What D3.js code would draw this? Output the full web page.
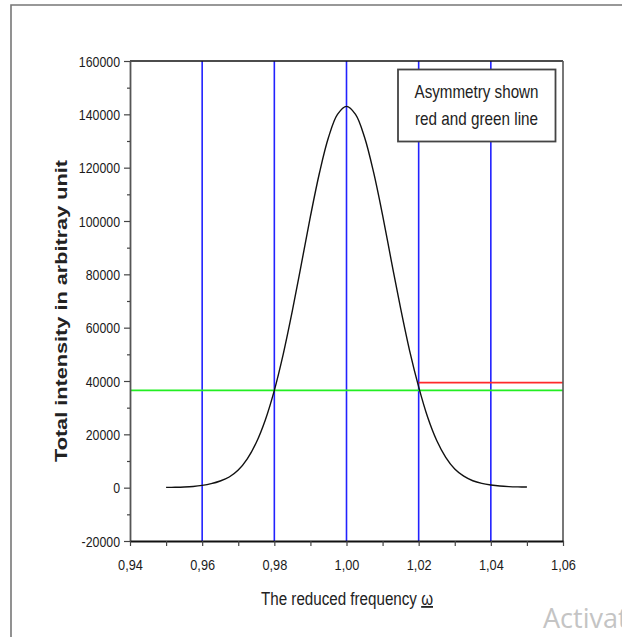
<!DOCTYPE html>
<html><head><meta charset="utf-8">
<script src="https://cdn.jsdelivr.net/npm/d3@7"></script>
<style>body{margin:0;background:#fff}svg{display:block}</style>
</head><body>
<svg id="chart" width="622" height="637"></svg>
<script>
// ---- data ----
const frequency = [0.9500,0.9525,0.9550,0.9575,0.9600,0.9625,0.9650,0.9675,0.9700,0.9725,0.9750,0.9775,0.9800,0.9825,0.9850,0.9875,0.9900,0.9925,0.9950,0.9975,
  1.0000,1.0025,1.0050,1.0075,1.0100,1.0125,1.0150,1.0175,1.0200,1.0225,1.0250,1.0275,1.0300,1.0325,1.0350,1.0375,1.0400,1.0425,1.0450,1.0475,1.0500];
const intensity = [100,150,250,450,850,1500,2500,4000,6620,10830,16940,25400,36500,50280,66350,83900,101700,118000,131300,139980,
  143000,139980,131400,118300,102200,84500,67200,51300,37800,26400,17700,11400,7000,4300,2600,1600,1000,600,400,300,250];
const blueLines = [0.96, 0.98, 1.00, 1.02, 1.04];
const greenLevel = 36500;           // across the whole plot
const redLevel = 39400;             // from 1.02 to the right edge
const redStart = 1.02;
const xDomain = [0.94, 1.06];
const yDomain = [-20000, 160000];
const xTickValues = [0.94, 0.96, 0.98, 1.00, 1.02, 1.04, 1.06];
const xTickLabels = ["0,94", "0,96", "0,98", "1,00", "1,02", "1,04", "1,06"];
const xMinorTicks = [0.95, 0.97, 0.99, 1.01, 1.03, 1.05];
const yTickValues = [-20000, 0, 20000, 40000, 60000, 80000, 100000, 120000, 140000, 160000];
const yTickLabels = ["-20000", "0", "20000", "40000", "60000", "80000", "100000", "120000", "140000", "160000"];
const yMinorTicks = [-10000, 10000, 30000, 50000, 70000, 90000, 110000, 130000, 150000];
const legendLines = ["Asymmetry shown", "red and green line"];
const xTitle = "The reduced frequency ";
const xTitleSymbol = "ω";
const yTitle = "Total intensity in arbitray unit";
const watermark = "Activat";

// ---- layout ----
const L = 130, R = 563, T = 61, B = 541;
const svg = d3.select("#chart");
const x = d3.scaleLinear().domain(xDomain).range([L, R]);
const y = d3.scaleLinear().domain(yDomain).range([B, T]);
const FONT = "'Liberation Sans', Arial, sans-serif";

function condense(sel, f) {
  sel.each(function () {
    const w = this.getComputedTextLength();
    this.setAttribute("textLength", w * f);
    this.setAttribute("lengthAdjust", "spacingAndGlyphs");
  });
}

svg.append("rect").attr("width", 622).attr("height", 637).attr("fill", "#fff");

// outer frame (top and left only visible)
svg.append("path").attr("d", "M11,637 L11,5 L622,5")
  .attr("fill", "none").attr("stroke", "#777").attr("stroke-width", 1.6);

// blue vertical lines
svg.append("g").selectAll("line").data(blueLines).join("line")
  .attr("x1", d => x(d)).attr("x2", d => x(d))
  .attr("y1", T).attr("y2", B)
  .attr("stroke", "#2222ff").attr("stroke-width", 1.6);

// green line
svg.append("line")
  .attr("x1", x(xDomain[0])).attr("x2", x(xDomain[1]))
  .attr("y1", y(greenLevel)).attr("y2", y(greenLevel))
  .attr("stroke", "#22ee22").attr("stroke-width", 1.6);

// red line
svg.append("line")
  .attr("x1", x(redStart)).attr("x2", x(xDomain[1]))
  .attr("y1", y(redLevel)).attr("y2", y(redLevel))
  .attr("stroke", "#ff2a2a").attr("stroke-width", 1.6);

// curve
const pts = frequency.map((f, i) => [f, intensity[i]]);
svg.append("path").datum(pts)
  .attr("fill", "none").attr("stroke", "#111").attr("stroke-width", 1.4)
  .attr("d", d3.line().x(d => x(d[0])).y(d => y(d[1])).curve(d3.curveCatmullRom));

// legend box
const lg = svg.append("g");
lg.append("rect").attr("x", 398).attr("y", 69.5).attr("width", 157.5).attr("height", 72)
  .attr("fill", "#fff").attr("stroke", "#444").attr("stroke-width", 1.8);
const lgText = lg.selectAll("text").data(legendLines).join("text")
  .attr("x", 476.5).attr("y", (d, i) => 98 + i * 27)
  .attr("text-anchor", "middle").attr("font-family", FONT).attr("font-size", 19)
  .attr("fill", "#222").text(d => d);
lgText.attr("textLength", (d, i) => i === 0 ? 124 : 123).attr("lengthAdjust", "spacingAndGlyphs");

// axes frame: top and right
svg.append("line").attr("x1", L).attr("x2", R).attr("y1", T).attr("y2", T)
  .attr("stroke", "#111").attr("stroke-width", 1.6);
svg.append("line").attr("x1", R).attr("x2", R).attr("y1", T).attr("y2", B)
  .attr("stroke", "#555").attr("stroke-width", 1.6);

// y axis
const yAxis = svg.append("g").attr("transform", `translate(${L},0)`)
  .call(d3.axisLeft(y).tickValues(yTickValues).tickSize(6).tickSizeOuter(0)
    .tickFormat((d, i) => yTickLabels[i]));
svg.append("g").attr("transform", `translate(${L},0)`)
  .call(d3.axisLeft(y).tickValues(yMinorTicks).tickSize(3).tickSizeOuter(0).tickFormat(""))
  .call(g => g.select(".domain").remove());
yAxis.select(".domain").attr("stroke", "#555").attr("stroke-width", 1.8);
svg.selectAll("g.tick line").attr("stroke", "#444").attr("stroke-width", 1.2);
yAxis.selectAll("text").attr("font-family", FONT).attr("font-size", 14.5)
  .attr("fill", "#1a1a1a").attr("x", -10).attr("dy", "0.35em");
condense(yAxis.selectAll("text"), 0.85);

// x axis
const xAxis = svg.append("g").attr("transform", `translate(0,${B})`)
  .call(d3.axisBottom(x).tickValues(xTickValues).tickSize(5).tickSizeOuter(0)
    .tickFormat((d, i) => xTickLabels[i]));
svg.append("g").attr("transform", `translate(0,${B})`)
  .call(d3.axisBottom(x).tickValues(xMinorTicks).tickSize(5).tickSizeOuter(0).tickFormat(""))
  .call(g => g.selectAll("line").attr("stroke", "#444").attr("stroke-width", 1.2))
  .call(g => g.select(".domain").remove());
xAxis.select(".domain").attr("stroke", "#111").attr("stroke-width", 1.8);
xAxis.selectAll("line").attr("stroke", "#444").attr("stroke-width", 1.2);
xAxis.selectAll("text").attr("font-family", FONT).attr("font-size", 15)
  .attr("fill", "#1a1a1a").attr("y", 18).attr("dy", "0.71em");
condense(xAxis.selectAll("text"), 0.85);

// x title (one text, underlined omega as a tspan)
const xt = svg.append("text").attr("x", 261).attr("y", 605)
  .attr("font-family", FONT).attr("font-size", 18).attr("fill", "#222")
  .attr("textLength", 172).attr("lengthAdjust", "spacingAndGlyphs");
xt.append("tspan").text(xTitle);
xt.append("tspan").attr("text-decoration", "underline").text(xTitleSymbol);

// y title
svg.append("text").attr("transform", "translate(67,311) rotate(-90)")
  .attr("text-anchor", "middle").attr("font-family", FONT).attr("font-size", 16)
  .attr("font-weight", "bold").attr("fill", "#222")
  .attr("textLength", 302).attr("lengthAdjust", "spacingAndGlyphs")
  .text(yTitle);

// watermark (cut by the right edge, as in the reference)
svg.append("text").attr("x", 543).attr("y", 628)
  .attr("font-family", "'Open Sans', 'Noto Sans', sans-serif").attr("font-size", 27)
  .attr("fill", "#c4c4c4").text(watermark);
</script>
</body></html>
